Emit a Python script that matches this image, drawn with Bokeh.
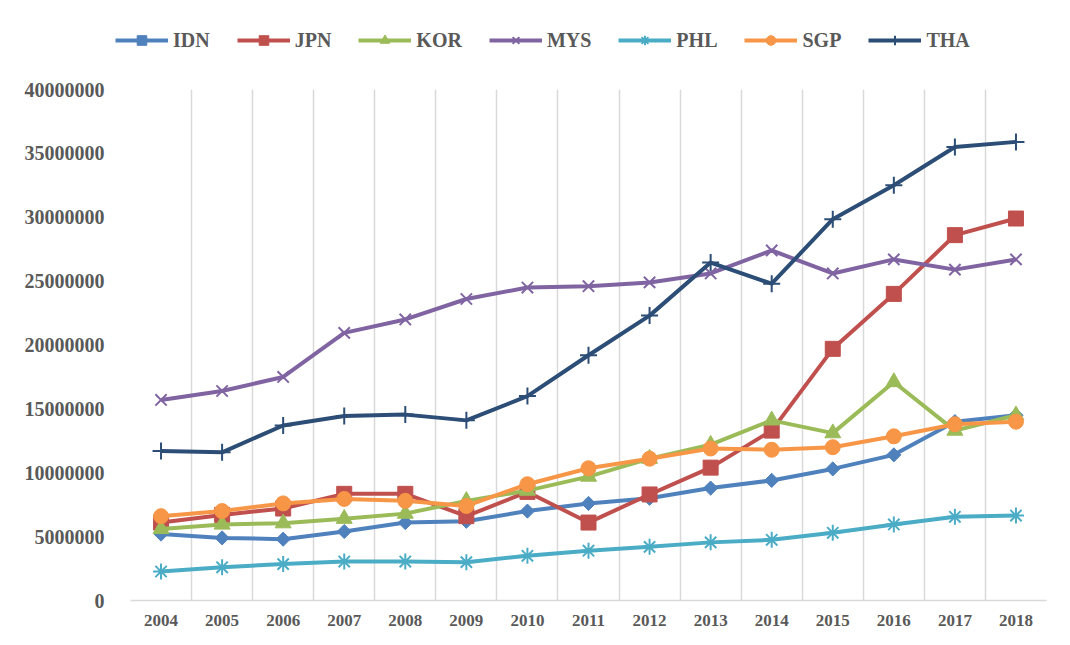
import math
from bokeh.plotting import figure
from bokeh.layouts import column
from bokeh.models import Range1d, FixedTicker, Legend, LegendItem
from bokeh.embed import file_html
from bokeh.resources import INLINE

years = list(range(2004, 2019))

IDN = [5200000, 4900000, 4800000, 5400000, 6100000, 6200000, 7000000, 7600000,
       8000000, 8800000, 9400000, 10300000, 11400000, 14000000, 14500000]
JPN = [6100000, 6700000, 7200000, 8350000, 8350000, 6600000, 8500000, 6100000,
       8300000, 10400000, 13300000, 19700000, 24000000, 28600000, 29900000]
KOR = [5600000, 5950000, 6050000, 6400000, 6800000, 7800000, 8600000, 9700000,
       11100000, 12200000, 14100000, 13100000, 17100000, 13300000, 14500000]
MYS = [15700000, 16400000, 17500000, 20950000, 22000000, 23600000, 24500000, 24600000,
       24900000, 25600000, 27400000, 25600000, 26700000, 25900000, 26700000]
PHL = [2270000, 2600000, 2850000, 3050000, 3050000, 3000000, 3500000, 3900000,
       4200000, 4550000, 4750000, 5300000, 5950000, 6550000, 6650000]
SGP = [6600000, 7000000, 7600000, 7950000, 7800000, 7400000, 9100000, 10350000,
       11100000, 11900000, 11800000, 12000000, 12850000, 13800000, 14000000]
THA = [11700000, 11600000, 13700000, 14450000, 14550000, 14100000, 16000000, 19200000,
       22300000, 26450000, 24800000, 29850000, 32500000, 35500000, 35900000]

series_names = ["IDN", "JPN", "KOR", "MYS", "PHL", "SGP", "THA"]
series_values = [IDN, JPN, KOR, MYS, PHL, SGP, THA]

y_ticks = [0, 5000000, 10000000, 15000000, 20000000, 25000000, 30000000, 35000000, 40000000]
y_tick_labels = ["0", "5000000", "10000000", "15000000", "20000000",
                 "25000000", "30000000", "35000000", "40000000"]
x_tick_labels = [str(y) for y in years]

# styles
colors = ["#4F81BD", "#C0504D", "#9BBB59", "#8064A2", "#4BACC6", "#F79646", "#2C4D75"]
markers = [
    dict(marker="square", size=10, angle=math.pi / 4, fill=True, lw=1),
    dict(marker="square", size=15, angle=0, fill=True, lw=1),
    dict(marker="triangle", size=16, angle=0, fill=True, lw=1),
    dict(marker="x", size=16, angle=0, fill=False, lw=2),
    dict(marker="asterisk", size=16, angle=0, fill=False, lw=2),
    dict(marker="circle", size=15, angle=0, fill=True, lw=1),
    dict(marker="cross", size=17, angle=0, fill=False, lw=2),
]

FONT = "Liberation Serif"
TXT = "#595959"
W = 1062

# ---- main chart ----
p = figure(width=W, height=577, output_backend="svg", toolbar_location=None,
           x_range=Range1d(years[0] - 0.5, years[-1] + 0.5),
           y_range=Range1d(y_ticks[0], y_ticks[-1]),
           min_border_left=130, min_border_right=16,
           min_border_top=29, min_border_bottom=37)
p.frame_align = False
p.outline_line_color = None
p.background_fill_color = "white"
p.border_fill_color = "white"

p.ygrid.visible = False
p.xgrid.ticker = FixedTicker(ticks=[y - 0.5 for y in years] + [years[-1] + 0.5])
p.xgrid.grid_line_color = "#D9D9D9"
p.xgrid.grid_line_width = 1.5

p.xaxis.ticker = FixedTicker(ticks=years)
p.xaxis.major_label_overrides = {y: lab for y, lab in zip(years, x_tick_labels)}
p.xaxis.axis_line_color = "#D9D9D9"
p.xaxis.axis_line_width = 1.5
p.xaxis.major_tick_line_color = None
p.xaxis.minor_tick_line_color = None
p.xaxis.major_label_text_font = FONT
p.xaxis.major_label_text_font_style = "bold"
p.xaxis.major_label_text_font_size = "17px"
p.xaxis.major_label_text_color = TXT
p.xaxis.major_label_standoff = 8

p.yaxis.ticker = FixedTicker(ticks=y_ticks)
p.yaxis.major_label_overrides = {t: lab for t, lab in zip(y_ticks, y_tick_labels)}
p.yaxis.axis_line_color = None
p.yaxis.major_tick_line_color = None
p.yaxis.minor_tick_line_color = None
p.yaxis.major_label_text_font = FONT
p.yaxis.major_label_text_font_style = "bold"
p.yaxis.major_label_text_font_size = "20px"
p.yaxis.major_label_text_color = TXT
p.yaxis.major_label_standoff = 20

# ---- legend strip: its own small figure; its renderers' data fall outside its ranges ----
lg = figure(width=W, height=60, output_backend="svg", toolbar_location=None,
            x_axis_type=None, y_axis_type=None,
            x_range=Range1d(0, 1), y_range=Range1d(0, 1),
            min_border_left=0, min_border_right=0, min_border_top=0, min_border_bottom=0)
lg.frame_align = False
lg.outline_line_color = None
lg.grid.visible = False
lg.background_fill_color = "white"
lg.border_fill_color = "white"

items = []
for name, vals, col, mk in zip(series_names, series_values, colors, markers):
    fill = col if mk["fill"] else None
    p.line(years, vals, line_color=col, line_width=4, line_join="round")
    p.scatter(years, vals, marker=mk["marker"], size=mk["size"], angle=mk["angle"],
              line_color=col, line_width=mk["lw"], fill_color=fill)
    ln = lg.line(years, vals, line_color=col, line_width=4)
    sc = lg.scatter(years, vals, marker=mk["marker"], size=mk["size"], angle=mk["angle"],
                    line_color=col, line_width=mk["lw"], fill_color=fill)
    items.append(LegendItem(label=name, renderers=[ln, sc]))

legend = Legend(items=items, orientation="horizontal", location=(115, 8),
                padding=0, margin=0, spacing=27, glyph_width=53, glyph_height=24,
                label_standoff=5, label_text_font=FONT, label_text_font_style="bold",
                label_text_font_size="20px", label_text_color=TXT,
                border_line_color=None, background_fill_alpha=0)
lg.add_layout(legend)

layout = column(lg, p, spacing=0)
open("out.html", "w").write(file_html(layout, INLINE))
